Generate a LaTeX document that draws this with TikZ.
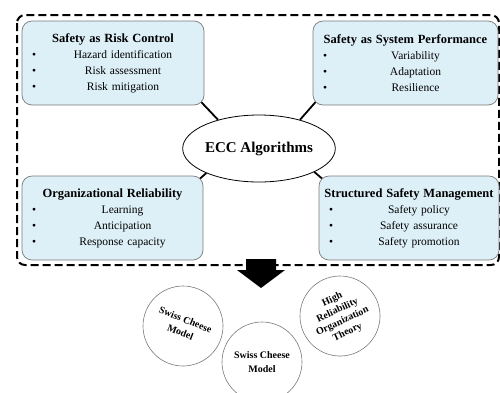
\documentclass[tikz,border=0pt]{standalone}
\usepackage{fontspec}
\setmainfont{Liberation Serif}
\usetikzlibrary{shapes.geometric,backgrounds}

\definecolor{boxfill}{HTML}{DDEFF7}
\definecolor{boxline}{HTML}{7A7A7A}

% one bullet line: bullet column, then the item centred in the rest
\newcommand{\bitem}[1]{\makebox[20pt][l]{\hspace{10pt}\textbullet}%
  \makebox[\dimexpr\linewidth-20pt\relax][c]{#1}}
\newcommand{\btitle}[1]{\makebox[\linewidth][c]{%
  \fontsize{12.5}{16}\selectfont\bfseries #1}}

\begin{document}
\begin{tikzpicture}[
    x=1pt, y=-1pt,
    font=\fontsize{11.5}{16}\selectfont,
    % Node styles:
    area/.style={rectangle, draw=boxline, fill=boxfill, rounded corners=10pt,
                 line width=0.7pt, inner xsep=0pt, inner ysep=0pt,
                 align=left, minimum height=84pt},
    core/.style={ellipse, draw, fill=white, line width=0.8pt, inner sep=0pt,
                 minimum width=152pt, minimum height=67pt,
                 font=\fontsize{15}{18}\selectfont\bfseries},
    theory/.style={circle, draw=boxline, fill=white, line width=0.6pt,
                   minimum size=80pt, inner sep=0pt, align=center,
                   font=\fontsize{10}{13.5}\selectfont\bfseries},
    % Line styles:
    link/.style={line width=1.8pt, shorten >=-6pt},
    frame/.style={line width=2pt, dash pattern=on 8pt off 4pt,
                  rounded corners=8pt},
]
\useasboundingbox (0,0) rectangle (500,392);

% --- DASHED FRAME ---
\draw[frame] (17,15) rectangle (499,265);

% --- NODES ---
\node[area, text width=182pt] (riskctl) at (113,63)
      {\btitle{Safety as Risk Control}\\
       \bitem{Hazard identification}\\
       \bitem{Risk assessment}\\
       \bitem{Risk mitigation}};
\node[area, text width=185pt] (sysperf) at (405.5,63)
      {\btitle{Safety as System Performance}\\
       \bitem{Variability}\\
       \bitem{Adaptation}\\
       \bitem{Resilience}};
\node[area, text width=181pt] (orgrel) at (112.5,218)
      {\btitle{Organizational Reliability}\\
       \bitem{Learning}\\
       \bitem{Anticipation}\\
       \bitem{Response capacity}};
\node[area, text width=180pt] (safemgmt) at (409,218)
      {\btitle{Structured Safety Management}\\
       \bitem{Safety policy}\\
       \bitem{Safety assurance}\\
       \bitem{Safety promotion}};

\node[core] (ecc) at (259,148.5) {ECC Algorithms};

% --- ARROWS ---
% short links from the ellipse to the box corners
\begin{scope}[on background layer]
\draw[link] (ecc.145) -- (riskctl.south east);
\draw[link] (ecc.35)  -- (sysperf.south west);
\draw[link] (ecc.205) -- (orgrel.north east);
\draw[link] (ecc.337) -- (safemgmt.north west);
\end{scope}

% big block arrow down to the theories
\fill (246,259) -- (276,259) -- (276,270) -- (285,270) -- (261,288)
      -- (237,270) -- (246,270) -- cycle;

% --- THEORY CIRCLES ---
\node[theory, rotate=-22] (swissl) at (183,326) {Swiss Cheese\\Model};
\node[theory]             (swissm) at (262,362) {Swiss Cheese\\Model};
\node[theory, rotate=25, font=\fontsize{10}{12}\selectfont\bfseries]
      (hro) at (340,316) {High\\Reliability\\Organization\\Theory};

\end{tikzpicture}
\end{document}
